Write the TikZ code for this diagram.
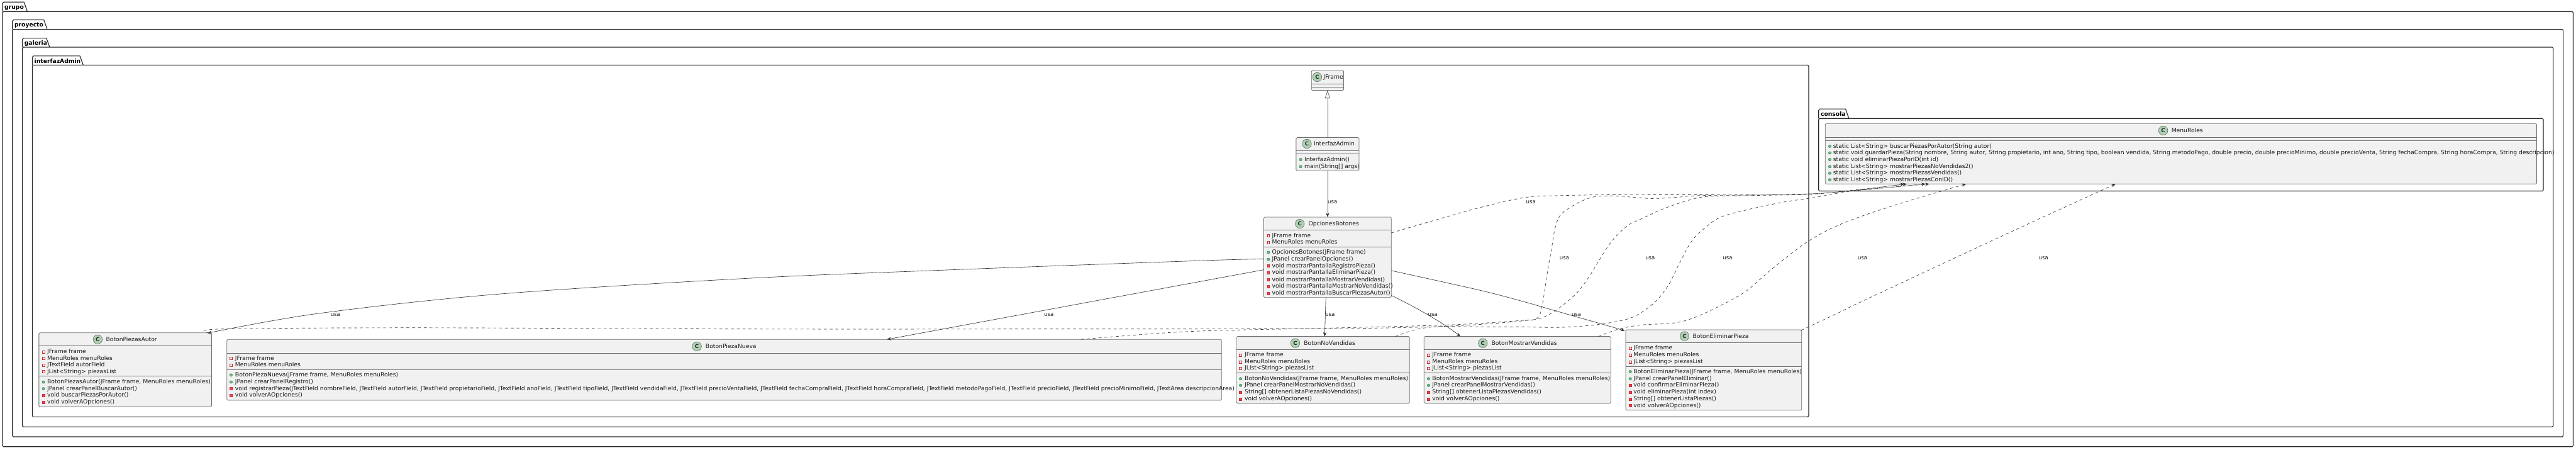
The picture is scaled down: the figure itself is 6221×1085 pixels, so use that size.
\documentclass[tikz,border=0pt]{standalone}
\usepackage{fontspec}
\setmainfont{DejaVu Sans}
\usetikzlibrary{arrows.meta}
\definecolor{boxfill}{HTML}{F1F1F1}
\definecolor{boxline}{HTML}{6E6E6E}
\definecolor{circfill}{HTML}{ADD1B2}
\definecolor{privline}{HTML}{C82930}
\definecolor{privfill}{HTML}{F24D5C}
\definecolor{publine}{HTML}{038048}
\definecolor{pubfill}{HTML}{84BE84}
\definecolor{edgecol}{HTML}{383838}
\newcounter{tn}
\tikzset{
  x=0.5pt,y=-0.5pt,
  classbox/.style={draw=boxline,fill=boxfill,line width=0.6pt,rounded corners=1.25pt,inner sep=0pt,outer sep=0pt},
  pkgline/.style={draw=black!85,line width=0.85pt,line join=round},
  rowtext/.style={font=\fontsize{7}{8}\selectfont,inner sep=0pt,outer sep=0pt,anchor=base west,text=black!90},
  pkgtext/.style={font=\fontsize{7}{8}\selectfont\bfseries,inner sep=0pt,outer sep=0pt,anchor=base west},
  usetext/.style={font=\fontsize{6.5}{8}\selectfont,inner sep=0pt,outer sep=0pt,anchor=base,text=black!90},
  usesolid/.style={draw=edgecol,line width=0.5pt,-{Stealth[length=5pt,width=4pt,inset=1.6pt]}},
  usedash/.style={draw=edgecol,line width=0.5pt,dash pattern=on 3.5pt off 3.5pt,-{Stealth[length=5pt,width=4pt,inset=1.6pt]}},
  extend/.style={draw=boxline!70!black,line width=0.5pt,-{Triangle[open,length=9.5pt,width=6pt,fill=white]}},
  curve/.style={smooth,tension=0.55}
}
\newcommand{\pkgbox}[7]{%
  \draw[pkgline] (#1,#3) -- (#1,#2+3) arc[start angle=180,end angle=90,radius=1.5pt] -- ({#4-8},#2) -- (#4,#3);
  \draw[pkgline,rounded corners=1.25pt] (#1,#3) -- (#1,#6) -- (#5,#6) -- (#5,#3) -- cycle;
  \stepcounter{tn}\node[pkgtext] (n\arabic{tn}) at (#1+5,#2+17) {#7};
}
\newcommand{\classnode}[6]{%
  \node[classbox,minimum width={(#4-#2)*0.5pt},minimum height={(#5-#3)*0.5pt}] (#1) at ({(#2+#4)/2},{(#3+#5)/2}) {};
  \draw[boxline,line width=0.6pt] (#2,#6) -- (#4,#6);
}
\newcommand{\classtitle}[4]{%
  \draw[black!70,fill=circfill,line width=0.35pt] (#1,#3) circle[radius=5.5pt];
  \stepcounter{tn}\node[font=\fontsize{6.5}{8}\selectfont\bfseries,inner sep=0pt,text=black!85] (n\arabic{tn}) at (#1,#3) {C};
  \stepcounter{tn}\node[rowtext] (n\arabic{tn}) at (#2,#3+5) {#4};
}
\newcommand{\privf}[4]{%
  \draw[privline,fill=white,line width=0.4pt] ({#1-3},{#3-2}) rectangle ({#1+3},{#3+4});
  \stepcounter{tn}\node[rowtext] (n\arabic{tn}) at (#2,#3+5) {#4};
}
\newcommand{\privm}[4]{%
  \draw[privline,fill=privfill,line width=0.4pt] ({#1-3},{#3-2}) rectangle ({#1+3},{#3+4});
  \stepcounter{tn}\node[rowtext] (n\arabic{tn}) at (#2,#3+5) {#4};
}
\newcommand{\pubm}[4]{%
  \draw[publine,fill=pubfill,line width=0.4pt] (#1,#3+1) circle[radius=1.6pt];
  \stepcounter{tn}\node[rowtext] (n\arabic{tn}) at (#2,#3+5) {#4};
}
\newcommand{\usalabel}[2]{\stepcounter{tn}\node[usetext] (n\arabic{tn}) at (#1,#2) {usa};}
\begin{document}
\begin{tikzpicture}
\useasboundingbox (0,0) rectangle (6221,1085);
\fill[white] (0,0) rectangle (6221,1085);
\pkgbox{6}{5}{28}{66}{6214}{1078}{grupo}
\pkgbox{30}{48}{71}{114}{6190}{1054}{proyecto}
\pkgbox{54}{92}{114}{120}{6166}{1030}{galeria}
\pkgbox{78}{135}{157}{201}{4368}{1006}{interfazAdmin}
\pkgbox{4392}{263}{286}{4465}{6142}{461}{consola}

\classnode{jframe}{3167}{170}{3245}{218}{202}
\draw[boxline,line width=0.6pt] (3167,210) -- (3245,210);
\classtitle{3181}{3196}{186}{JFrame}
\classnode{iadmin}{3130}{332}{3282}{412}{363}
\draw[boxline,line width=0.6pt] (3130,371) -- (3282,371);
\classtitle{3156}{3173}{347}{InterfazAdmin}
\pubm{3141}{3150}{384}{InterfazAdmin()}
\pubm{3141}{3150}{401}{main(String[] args)}
\classnode{opc}{3052}{524}{3360}{718}{555}
\draw[boxline,line width=0.6pt] (3052,596) -- (3360,596);
\classtitle{3139}{3160}{540}{OpcionesBotones}
\privf{3063}{3072}{568}{JFrame frame}
\privf{3063}{3072}{584}{MenuRoles menuRoles}
\pubm{3063}{3072}{608}{OpcionesBotones(JFrame frame)}
\pubm{3063}{3072}{625}{JPanel crearPanelOpciones()}
\privm{3063}{3072}{641}{void mostrarPantallaRegistroPieza()}
\privm{3063}{3072}{657}{void mostrarPantallaEliminarPieza()}
\privm{3063}{3072}{674}{void mostrarPantallaMostrarVendidas()}
\privm{3063}{3072}{690}{void mostrarPantallaMostrarNoVendidas()}
\privm{3063}{3072}{707}{void mostrarPantallaBuscarPiezasAutor()}
\classnode{autor}{94}{803}{511}{982}{835}
\draw[boxline,line width=0.6pt] (94,908) -- (511,908);
\classtitle{236}{256}{819}{BotonPiezasAutor}
\privf{105}{114}{848}{JFrame frame}
\privf{105}{114}{864}{MenuRoles menuRoles}
\privf{105}{114}{880}{JTextField autorField}
\privf{105}{114}{896}{JList<String> piezasList}
\pubm{105}{114}{921}{BotonPiezasAutor(JFrame frame, MenuRoles menuRoles)}
\pubm{105}{114}{937}{JPanel crearPanelBuscarAutor()}
\privm{105}{114}{953}{void buscarPiezasPorAutor()}
\privm{105}{114}{970}{void volverAOpciones()}
\classnode{nueva}{548}{819}{2950}{966}{852}
\draw[boxline,line width=0.6pt] (548,892) -- (2950,892);
\classtitle{1683}{1704}{836}{BotonPiezaNueva}
\privf{558}{568}{864}{JFrame frame}
\privf{558}{568}{880}{MenuRoles menuRoles}
\pubm{558}{568}{904}{BotonPiezaNueva(JFrame frame, MenuRoles menuRoles)}
\pubm{558}{568}{921}{JPanel crearPanelRegistro()}
\privm{558}{568}{937}{void registrarPieza(JTextField nombreField, JTextField autorField, JTextField propietarioField, JTextField anoField, JTextField tipoField, JTextField vendidaField, JTextField precioVentaField, JTextField fechaCompraField, JTextField horaCompraField, JTextField metodoPagoField, JTextField precioField, JTextField precioMinimoField, JTextArea descripcionArea)}
\privm{558}{568}{953}{void volverAOpciones()}
\classnode{novend}{2986}{812}{3404}{973}{843}
\draw[boxline,line width=0.6pt] (2986,900) -- (3404,900);
\classtitle{3128}{3149}{828}{BotonNoVendidas}
\privf{2996}{3006}{856}{JFrame frame}
\privf{2996}{3006}{872}{MenuRoles menuRoles}
\privf{2996}{3006}{888}{JList<String> piezasList}
\pubm{2996}{3006}{913}{BotonNoVendidas(JFrame frame, MenuRoles menuRoles)}
\pubm{2996}{3006}{929}{JPanel crearPanelMostrarNoVendidas()}
\privm{2996}{3006}{945}{String[] obtenerListaPiezasNoVendidas()}
\privm{2996}{3006}{962}{void volverAOpciones()}
\classnode{mostrar}{3439}{812}{3890}{973}{843}
\draw[boxline,line width=0.6pt] (3439,900) -- (3890,900);
\classtitle{3581}{3602}{828}{BotonMostrarVendidas}
\privf{3450}{3459}{856}{JFrame frame}
\privf{3450}{3459}{872}{MenuRoles menuRoles}
\privf{3450}{3459}{888}{JList<String> piezasList}
\pubm{3450}{3459}{913}{BotonMostrarVendidas(JFrame frame, MenuRoles menuRoles)}
\pubm{3450}{3459}{929}{JPanel crearPanelMostrarVendidas()}
\privm{3450}{3459}{945}{String[] obtenerListaPiezasVendidas()}
\privm{3450}{3459}{962}{void volverAOpciones()}
\classnode{elim}{3926}{796}{4351}{990}{827}
\draw[boxline,line width=0.6pt] (3926,884) -- (4351,884);
\classtitle{4068}{4088}{811}{BotonEliminarPieza}
\privf{3937}{3945}{839}{JFrame frame}
\privf{3937}{3945}{856}{MenuRoles menuRoles}
\privf{3937}{3945}{872}{JList<String> piezasList}
\pubm{3937}{3945}{896}{BotonEliminarPieza(JFrame frame, MenuRoles menuRoles)}
\pubm{3937}{3945}{913}{JPanel crearPanelEliminar()}
\privm{3937}{3945}{929}{void confirmarEliminarPieza()}
\privm{3937}{3945}{945}{void eliminarPieza(int index)}
\privm{3937}{3945}{962}{String[] obtenerListaPiezas()}
\privm{3937}{3945}{978}{void volverAOpciones()}
\classnode{menu}{4408}{298}{6126}{444}{331}
\draw[boxline,line width=0.6pt] (4408,339) -- (6126,339);
\classtitle{5224}{5244}{315}{MenuRoles}
\pubm{4419}{4427}{352}{static List<String> buscarPiezasPorAutor(String autor)}
\pubm{4419}{4427}{368}{static void guardarPieza(String nombre, String autor, String propietario, int ano, String tipo, boolean vendida, String metodoPago, double precio, double precioMinimo, double precioVenta, String fechaCompra, String horaCompra, String descripcion)}
\pubm{4419}{4427}{384}{static void eliminarPiezaPorID(int id)}
\pubm{4419}{4427}{401}{static List<String> mostrarPiezasNoVendidas2()}
\pubm{4419}{4427}{417}{static List<String> mostrarPiezasVendidas()}
\pubm{4419}{4427}{433}{static List<String> mostrarPiezasConID()}

\coordinate (oW1) at ([shift={(0,101)}]opc.north west);
\coordinate (oW2) at ([shift={(0,127)}]opc.north west);
\coordinate (oS) at ([shift={(150,0)}]opc.south west);
\coordinate (oE1) at ([shift={(0,-5)}]opc.south east);
\coordinate (oE2) at ([shift={(0,129)}]opc.north east);
\coordinate (oE3) at ([shift={(0,38)}]opc.north east);
\coordinate (aT) at ([shift={(407,1)}]autor.north west);
\coordinate (aD) at ([shift={(411,0)}]autor.north west);
\coordinate (nT) at ([shift={(1594,0)}]nueva.north west);
\coordinate (nD) at ([shift={(2063,0)}]nueva.north west);
\coordinate (vT) at ([shift={(213,0)}]novend.north west);
\coordinate (vD) at ([shift={(384,0)}]novend.north west);
\coordinate (mT) at ([shift={(88,0)}]mostrar.north west);
\coordinate (mD) at ([shift={(421,0)}]mostrar.north west);
\coordinate (eT) at ([shift={(-2,2)}]elim.north west);
\coordinate (eD) at ([shift={(-1,1)}]elim.north east);
\coordinate (r1) at ([shift={(197,0)}]menu.south west);
\coordinate (r2) at ([shift={(191,0)}]menu.south west);
\coordinate (r3) at ([shift={(242,0)}]menu.south west);
\coordinate (r4) at ([shift={(251,0)}]menu.south west);
\coordinate (r5) at ([shift={(340,0)}]menu.south west);
\coordinate (r6) at ([shift={(701,0)}]menu.south west);

\draw[extend] (iadmin.north) -- (jframe.south);
\draw[usesolid] (iadmin.south) -- (opc.north);
\draw[usesolid] plot[curve] coordinates {(oW1) (2900,629) (2300,651) (1800,672) (1200,710) (765,757) (aT)};
\draw[usesolid] (oW2) -- (nT);
\draw[usesolid] (oS) -- (vT);
\draw[usesolid] (oE1) .. controls (3410,737) and (3480,775) .. (mT);
\draw[usesolid] plot[curve] coordinates {(oE2) (3572,700) (3680,728) (3756,750) (3872,783) (eT)};

\draw[usedash] plot[curve] coordinates {(oE3) (3551,507) (3680,477) (3769,472) (3903,470) (4126,470) (4367,468) (4474,459) (r1)};
\draw[usedash] plot[curve] coordinates {(aD) (536,794) (1000,791) (1800,794) (2500,794) (3200,793) (3500,787) (3680,774) (3714,766) (3725,733) (3738,650) (3747,600) (3754,557) (3763,528) (3778,510) (3814,488) (3850,475) (3903,473) (3984,479) (4037,477) (4104,472) (4216,471) (4367,468) (4474,460) (r2)};
\draw[usedash] plot[curve] coordinates {(nD) (2871,800) (3200,792) (3500,784) (3680,773) (3720,768) (3756,750) (3805,710) (3836,670) (3867,620) (3894,580) (3930,545) (3966,527) (4019,503) (4082,482) (4126,474) (4216,472) (4367,469) (4474,460) (r3)};
\draw[usedash] plot[curve] coordinates {(vD) (3420,795) (3481,788) (3600,789) (3680,789) (3769,790) (3859,783) (3939,767) (3992,733) (4028,690) (4055,637) (4082,587) (4109,557) (4153,525) (4216,507) (4305,488) (4380,477) (4474,461) (r4)};
\draw[usedash] plot[curve] coordinates {(mD) (3894,799) (3917,792) (3966,784) (4037,780) (4082,770) (4144,743) (4216,703) (4278,650) (4367,582) (4455,537) (4583,493) (r5)};
\draw[usedash] plot[curve] coordinates {(eD) (4450,750) (4493,729) (4838,568) (r6)};

\usalabel{3218}{491}
\usalabel{3697}{491}
\usalabel{3778}{627}
\usalabel{3985}{627}
\usalabel{4172}{627}
\usalabel{4498}{627}
\usalabel{4935}{627}
\usalabel{810}{763}
\usalabel{2533}{763}
\usalabel{3212}{763}
\usalabel{3460}{763}
\usalabel{3807}{763}
\end{tikzpicture}
\end{document}
